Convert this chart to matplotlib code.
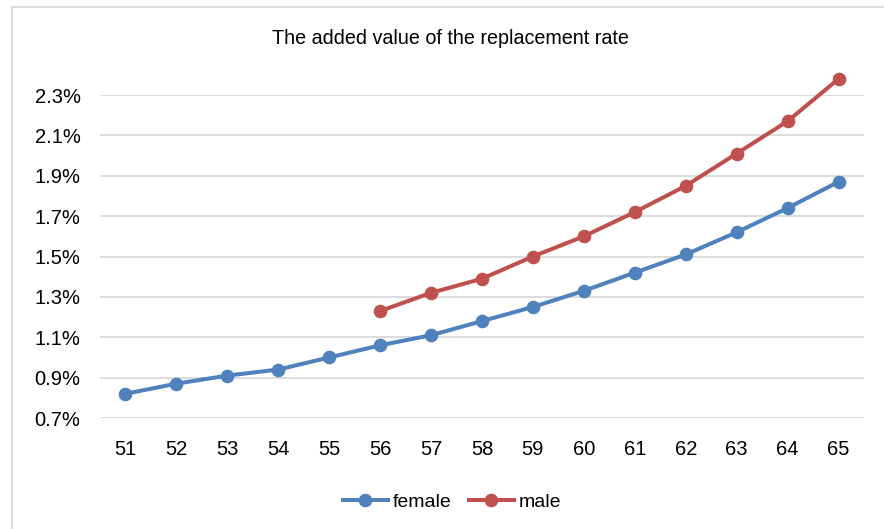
import matplotlib
matplotlib.use("Agg")
import matplotlib.pyplot as plt
from matplotlib.lines import Line2D
from matplotlib.ticker import FuncFormatter

plt.rcParams['font.family'] = ['Liberation Sans', 'DejaVu Sans']

ages = [51, 52, 53, 54, 55, 56, 57, 58, 59, 60, 61, 62, 63, 64, 65]
female = [0.82, 0.87, 0.91, 0.94, 1.00, 1.06, 1.11, 1.18, 1.25, 1.33, 1.42, 1.51, 1.62, 1.74, 1.87]
male_ages = [56, 57, 58, 59, 60, 61, 62, 63, 64, 65]
male = [1.23, 1.32, 1.39, 1.50, 1.60, 1.72, 1.85, 2.01, 2.17, 2.38]
yticks = [0.7, 0.9, 1.1, 1.3, 1.5, 1.7, 1.9, 2.1, 2.3]

W, H = 884, 529
fig = plt.figure(figsize=(W / 100, H / 100), dpi=100)
ax = fig.add_axes([100 / W, 1 - 418 / H, 764 / W, 323 / H])

blue = '#4F81BD'
red = '#C0504D'
ax.plot(ages, female, color=blue, lw=2.9, marker='o', ms=8.8, label='female', clip_on=False, zorder=3)
ax.plot(male_ages, male, color=red, lw=2.9, marker='o', ms=8.8, label='male', clip_on=False, zorder=3)

ax.set_xlim(50.5, 65.5)
ax.set_ylim(0.7, 2.3)
ax.set_yticks(yticks)
ax.yaxis.set_major_formatter(FuncFormatter(lambda v, p: f"{v:.1f}%"))
ax.set_xticks(ages)
ax.set_xticklabels([str(a) for a in ages])
ax.grid(axis='y', color='#D9D9D9', lw=1.3)
ax.set_axisbelow(True)
for s in ax.spines.values():
    s.set_visible(False)
ax.tick_params(length=0, labelsize=14.5, colors='black')
ax.tick_params(axis='y', pad=14)
ax.tick_params(axis='x', pad=16)

fig.text(450 / W, 1 - 38 / H, 'The added value of the replacement rate', ha='center', va='center', fontsize=14.2)

leg = fig.legend(loc='center', bbox_to_anchor=(452 / W, 1 - 502 / H), ncol=2, frameon=False,
                 fontsize=14, handlelength=2.3, columnspacing=0.9, handletextpad=0.25)

# outer chart border (cropped at right and bottom)
fig.add_artist(Line2D([11.5 / W, 11.5 / W], [1 - 7 / H, 0], transform=fig.transFigure, color='#D9D9D9', lw=1.3))
fig.add_artist(Line2D([11.5 / W, 1], [1 - 7 / H, 1 - 7 / H], transform=fig.transFigure, color='#D9D9D9', lw=1.3))

fig.savefig('out.png', dpi=100)
